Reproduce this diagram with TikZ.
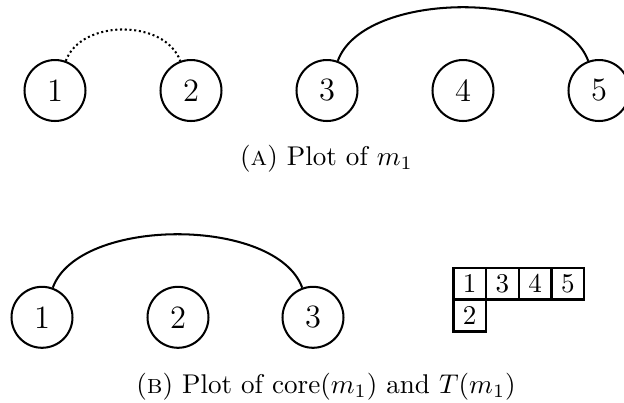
\documentclass[tikz,border=0pt]{standalone}
\begin{document}
\begin{tikzpicture}[x=0.369pt,y=0.369pt,
  vtx/.style={circle,draw,line width=0.75pt,minimum size=22.5pt,inner sep=0pt,font=\large},
  cellbox/.style={draw,line width=0.9pt,minimum width=12.07pt,minimum height=11.8pt,inner sep=0pt},
  arcline/.style={line width=0.75pt},
  captext/.style={anchor=base}]
\useasboundingbox (0,0) rectangle (624,402);
% (A)
\node[vtx] (a1) at (55,311.5) {1};
\node[vtx] (a2) at (191,311.5) {2};
\node[vtx] (a3) at (327,311.5) {3};
\node[vtx] (a4) at (463,311.5) {4};
\node[vtx] (a5) at (599,311.5) {5};
\draw[arcline,densely dotted] (a1) to[out=70,in=110] (a2);
\draw[arcline] (a3) to[out=70,in=110,looseness=0.78] (a5);
\node[captext] (capA) at (326.5,236.3) {(\textsc{a}) Plot of $m_1$};
% (B)
\node[vtx] (b1) at (42,84.7) {1};
\node[vtx] (b2) at (178,84.7) {2};
\node[vtx] (b3) at (313,84.7) {3};
\draw[arcline] (b1) to[out=70,in=110,looseness=0.78] (b3);
\node[cellbox] (t11) at (469.7,118.3) {1};
\node[cellbox] (t12) at (502.4,118.3) {3};
\node[cellbox] (t13) at (535.2,118.3) {4};
\node[cellbox] (t14) at (567.9,118.3) {5};
\node[cellbox] (t21) at (469.7,86.3) {2};
\node[captext] (capB) at (326,9) {(\textsc{b}) Plot of $\mathrm{core}(m_1)$ and $T(m_1)$};
\end{tikzpicture}
\end{document}
